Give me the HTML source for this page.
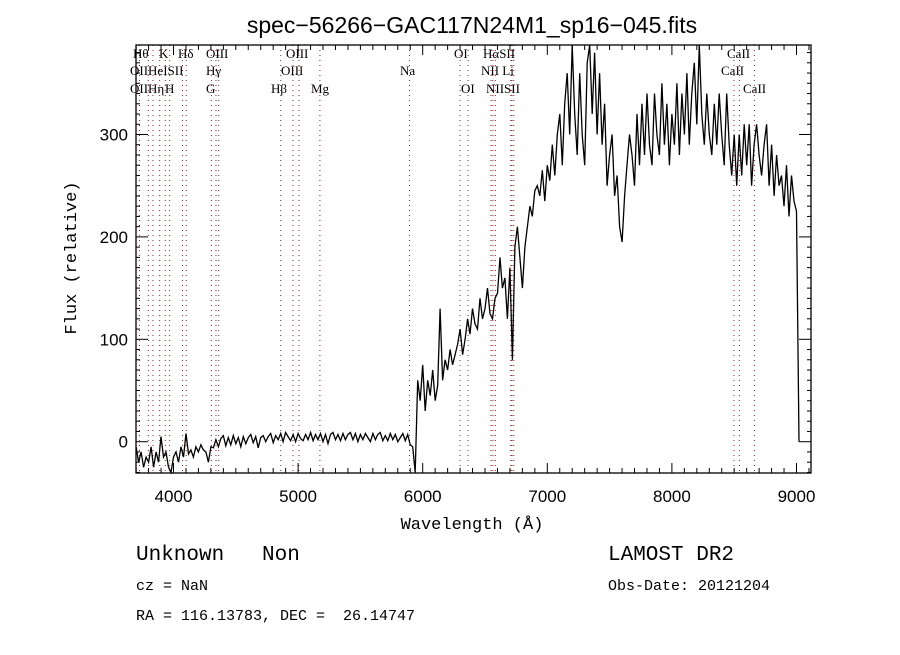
<!DOCTYPE html>
<html><head><meta charset="utf-8"><style>
body{margin:0;background:#fff}
svg text{fill:#000}
</style></head><body>
<svg id="chart" width="900" height="650" viewBox="0 0 900 650" xmlns="http://www.w3.org/2000/svg">
<rect width="900" height="650" fill="#fff"/>
<text x="472" y="33" text-anchor="middle" font-family="Liberation Sans, sans-serif" font-size="23">spec−56266−GAC117N24M1_sp16−045.fits</text>
<g id="lines"></g>
<g id="labels" font-family="Liberation Serif, serif" font-size="13"></g>
<path id="flux" fill="none" stroke="#000" stroke-width="1.3"/>
<g id="axes"></g>
<text x="472" y="529" text-anchor="middle" font-family="Liberation Mono, monospace" font-size="17">Wavelength (Å)</text>
<text transform="translate(76,258) rotate(-90)" text-anchor="middle" font-family="Liberation Mono, monospace" font-size="17">Flux (relative)</text>
<text x="136" y="560" font-family="Liberation Mono, monospace" font-size="21" xml:space="preserve">Unknown   Non</text>
<text x="608" y="560" font-family="Liberation Mono, monospace" font-size="21">LAMOST DR2</text>
<text x="136" y="590" font-family="Liberation Mono, monospace" font-size="15">cz = NaN</text>
<text x="608" y="590" font-family="Liberation Mono, monospace" font-size="15">Obs-Date: 20121204</text>
<text x="136" y="620" font-family="Liberation Mono, monospace" font-size="15" xml:space="preserve">RA = 116.13783, DEC =  26.14747</text>
</svg>
<script>
const startWave = 3700;
const stepWave = 20;
const flux = [
-5,-20,-10,-25,-15,-20,-5,-25,-10,-20,5,-15,-10,-25,-30,-15,-10,-20,-5,-15,8,-12,-8,-15,-5,-10,-3,-8,-10,-20,-5,
-6,2,-5,3,6,-4,4,-3,6,-2,
4,-5,5,-2,4,7,-1,5,-6,4,
6,0,5,8,-1,6,2,8,0,9,
5,1,7,0,8,3,1,7,2,9,
1,7,2,8,0,7,-2,7,9,2,
7,1,8,2,7,9,2,8,0,7,
2,8,4,0,8,2,7,9,1,6,
1,8,2,7,0,4,8,1,7,-3,
-5,-30,60,40,75,30,60,45,70,40,55,130,60,80,70,90,75,85,95,110,
85,100,120,105,130,115,110,140,120,130,150,125,120,140,145,180,150,160,120,170,
80,190,210,180,150,190,210,230,220,245,250,240,265,235,270,255,290,260,300,320,
270,330,360,300,390,320,280,360,300,270,370,390,320,380,300,360,290,330,250,280,
300,240,260,210,195,240,270,300,280,250,320,270,330,280,340,290,270,340,300,280,
350,290,330,270,320,290,350,280,340,300,360,290,340,370,310,390,320,290,340,300,
280,330,290,340,300,270,340,290,260,300,250,300,260,310,270,310,250,290,310,280,
260,290,310,250,290,240,280,250,260,230,270,220,260,235,225,0
];
const lineWaves = [3727,3798,3835,3889,3934,3969,4072,4102,4304,4341,4363,4861,4959,5007,5175,5894,6300,6364,6548,6563,6583,6707,6716,6731,8498,8542,8662];
const lineLabels = [["Hθ",133,58],["K",159,58],["Hδ",178,58],["OIII",206,58],["OIII",286,58],["OI",454,58],["HαSII",483,58],["CaII",727,58],
["OIIHeISII",130,75],["Hγ",206,75],["OIII",281,75],["Na",400,75],["NII Li",481,75],["CaII",721,75],
["OIIHη",130,93],["H",165,93],["G",206,93],["Hβ",271,93],["Mg",311,93],["OI",461,93],["NIISII",486,93],["CaII",743,93]];
const xTicks = [4000,5000,6000,7000,8000,9000];
const yTicks = [0,100,200,300];

const L=136,R=811,T=45,B=473;
const X = w => 173.5 + (w-4000)*0.1246;
const Y = v => 441.7 - v*1.024;
const NS="http://www.w3.org/2000/svg";
function mk(tag,parent,attrs){const e=document.createElementNS(NS,tag);for(const k in attrs)e.setAttribute(k,attrs[k]);parent.appendChild(e);return e;}

const lg=document.getElementById('lines');
lineWaves.forEach(w=>{
  const l=mk('line',lg,{x1:X(w),x2:X(w),y1:T,y2:B,stroke:'#8b2020','stroke-width':1,'stroke-dasharray':'1 4'});
  
  
});
const lb=document.getElementById('labels');
lineLabels.forEach(a=>{
  const t=mk('text',lb,{x:a[1],y:a[2]});t.textContent=a[0];
  
  
});

let d='';
flux.forEach((v,i)=>{d+=(i?'L':'M')+X(startWave+i*stepWave).toFixed(1)+','+Math.max(T,Math.min(B,Y(v))).toFixed(1);});
document.getElementById('flux').setAttribute('d',d);

const ax=document.getElementById('axes');
const fr=mk('rect',ax,{x:L,y:T,width:R-L,height:B-T,fill:'none',stroke:'#000','stroke-width':1.3});


for(let w=3700;w<=9100;w+=100){
  const len = w%1000===0?10:5;
  mk('line',ax,{x1:X(w),x2:X(w),y1:B,y2:B-len,stroke:'#000'});
  mk('line',ax,{x1:X(w),x2:X(w),y1:T,y2:T+len,stroke:'#000'});
}
xTicks.forEach(w=>{
  const t=mk('text',ax,{x:X(w),y:502,'text-anchor':'middle','font-family':'Liberation Sans, sans-serif','font-size':17});
  t.textContent=w;
  
  
});
for(let v=-30;v<=380;v+=10){
  const len = v%100===0?12:4;
  mk('line',ax,{x1:L,x2:L+len,y1:Y(v),y2:Y(v),stroke:'#000'});
  mk('line',ax,{x1:R,x2:R-len,y1:Y(v),y2:Y(v),stroke:'#000'});
}
yTicks.forEach(v=>{
  const t=mk('text',ax,{x:128,y:Y(v)+6,'text-anchor':'end','font-family':'Liberation Sans, sans-serif','font-size':17});
  t.textContent=v;
  
  
});
</script>
</body></html>
